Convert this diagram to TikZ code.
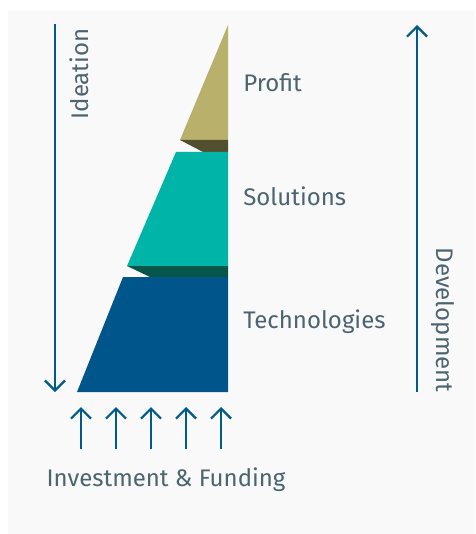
\documentclass[tikz,border=0pt]{standalone}
\usepackage{fontspec}
\setmainfont{Fira Sans}
\usetikzlibrary{arrows.meta}

\definecolor{bgGrey}{RGB}{249,249,249}
\definecolor{arrowBlue}{RGB}{0,90,140}
\definecolor{labelGrey}{RGB}{75,100,112}
\definecolor{profitFill}{RGB}{184,176,107}
\definecolor{profitShade}{RGB}{82,79,47}
\definecolor{solFill}{RGB}{0,181,168}
\definecolor{solShade}{RGB}{7,85,75}
\definecolor{techFill}{RGB}{0,85,138}

\tikzset{
  flow/.style={draw=arrowBlue, line width=1.7pt, -{Straight Barb[length=7.5pt, width=15pt, line width=1.7pt]}},
  tag/.style={text=labelGrey, font=\fontsize{18}{21}\selectfont, inner sep=0pt}
}

\begin{document}
\begin{tikzpicture}[x=0.75pt,y=0.75pt,yscale=-1,xscale=1]
\useasboundingbox (0,0) rectangle (475,534);
%Shape: Background
\fill [bgGrey] (8,10) rectangle (475,534);

%Shape: Profit layer
\fill [profitFill] (228,25) -- (180,140) -- (228,140) -- cycle;
\fill [profitShade] (180,140) -- (228,140) -- (228,152) -- (203,152) -- cycle;
%Shape: Solutions layer
\fill [solFill] (176,152) -- (228,152) -- (228,266) -- (127,266) -- cycle;
\fill [solShade] (127,266) -- (228,266) -- (228,277) -- (150,277) -- cycle;
%Shape: Technologies layer
\fill [techFill] (123,277) -- (228,277) -- (228,392) -- (77,392) -- cycle;

% Text Node
\node [tag, anchor=west] (profit) at (243,83) {Profit};
% Text Node
\node [tag, anchor=west] (solutions) at (243,196) {Solutions};
% Text Node
\node [tag, anchor=west] (technologies) at (243,322) {Technologies};
% Text Node
\node [tag, rotate=90] (ideation) at (79,74) {Ideation};
% Text Node
\node [tag, rotate=-90] (development) at (443,320) {Development};
% Text Node
\node [tag] (funding) at (166,480) {Investment \& Funding};

%Straight Lines
\coordinate (ideaTop) at (55,24);
\coordinate (ideaEnd) at (55,392);
\draw [flow] (ideaTop) -- (ideaEnd);
\coordinate (devStart) at (417,392);
\coordinate (devTop) at (417,25);
\draw [flow] (devStart) -- (devTop);
\foreach \i/\x in {1/81,2/116,3/151,4/186,5/221} {
  \coordinate (fundFoot\i) at (\x,449);
  \coordinate (fundTip\i) at (\x,407);
  \draw [flow] (fundFoot\i) -- (fundTip\i);
}
\end{tikzpicture}
\end{document}
